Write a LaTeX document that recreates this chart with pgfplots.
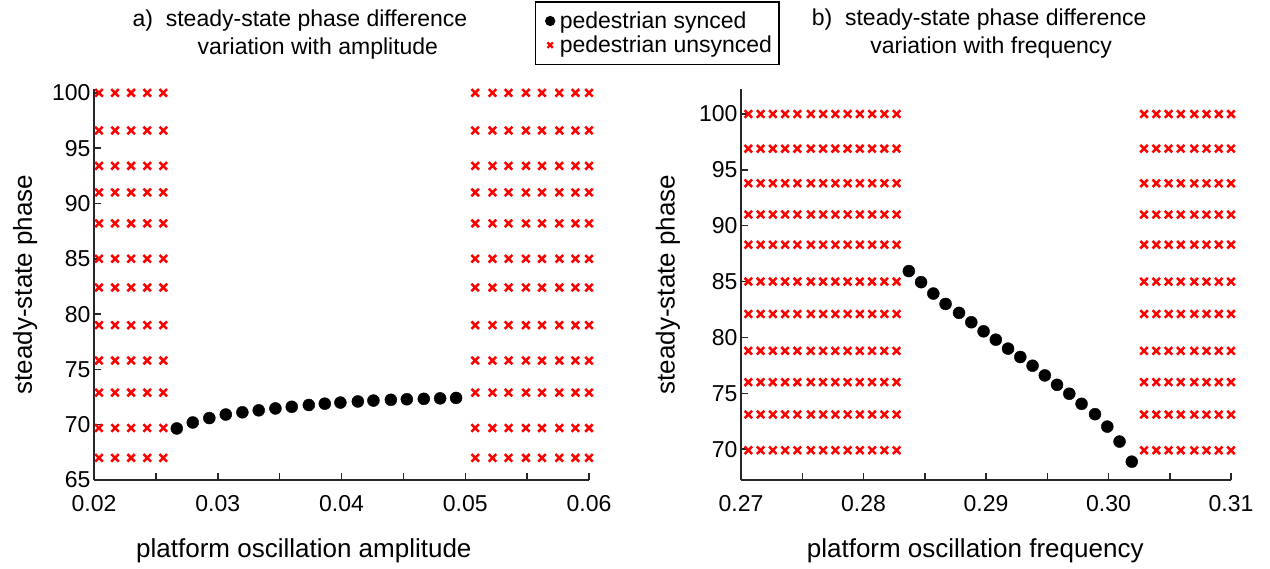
\documentclass[border=0pt]{standalone}
\usepackage{fontspec}
\setmainfont{Liberation Sans}
\usepackage{pgfplots}
\pgfplotsset{compat=1.18}

\definecolor{axgray}{gray}{0.15}

\pgfplotsset{
  panel/.style={
    scale only axis,
    axis x line*=bottom, axis y line*=left,
    tick align=inside,
    major tick length=7bp,
    axis line style={axgray, line width=1.5bp},
    every tick/.style={axgray, line width=1.5bp},
    tick label style={font=\fontsize{23bp}{23bp}\selectfont, black},
    xticklabel style={yshift=-12bp},
    label style={font=\fontsize{26bp}{26bp}\selectfont},
    title style={font=\fontsize{23bp}{28bp}\selectfont, align=center, anchor=center},
    /pgf/number format/assume math mode=true,
    scaled x ticks=false,
    clip=false,
  },
  sync/.style={only marks, mark=*, mark size=6bp, black, mark options={fill=black}},
  unsync/.style={only marks, mark=x, mark size=5.3bp, red, mark options={line width=2.5bp}},
}

\begin{document}
\begin{tikzpicture}
\path[use as bounding box] (0,0) rectangle (1270bp,569bp);

% a) amplitude
\begin{axis}[panel,
  at={(94bp,89bp)}, anchor=south west,
  width=495bp, height=391bp,
  xmin=0.02, xmax=0.06, ymin=65, ymax=100.35,
  xtick={0.02,0.025,0.03,0.035,0.04,0.045,0.05,0.055,0.06},
  xticklabels={0.02,,0.03,,0.04,,0.05,,0.06},
  ytick={65,70,75,80,85,90,95,100},
  title={a)\ \ steady-state phase difference\\\hspace*{36bp}variation with amplitude},
  title style={at={(axis description cs:0.416,1.123)}},
  xlabel={platform oscillation amplitude},
  xlabel style={at={(axis description cs:0.424,-0.182)}, anchor=center},
  ylabel={steady-state phase},
  ylabel style={at={(axis description cs:-0.139,0.5)}, anchor=center},
  legend style={at={(axis description cs:1.138,1.143)}, anchor=center,
    draw=black, line width=1.2bp, font=\fontsize{23bp}{25bp}\selectfont,
    inner xsep=5bp, inner ysep=8bp, row sep=2bp},
  legend cell align=left,
  legend image code/.code={\path (0bp,0bp) (16bp,0bp); \draw[#1] plot coordinates {(9bp,0bp)};},
]
\addlegendimage{only marks, mark=*, mark size=4.5bp, black, mark options={fill=black}}
\addlegendentry{pedestrian synced}
\addlegendimage{only marks, mark=x, mark size=3.8bp, red, mark options={line width=2.2bp}}
\addlegendentry{pedestrian unsynced}
\addplot[sync, forget plot] coordinates {
 (0.02669,69.66) (0.02798,70.20) (0.02932,70.60) (0.03065,70.92) (0.03199,71.12)
 (0.03331,71.30) (0.03466,71.47) (0.03598,71.62) (0.03736,71.78) (0.03865,71.90)
 (0.03991,72.00) (0.04132,72.10) (0.04258,72.18) (0.04399,72.25) (0.04528,72.30)
 (0.04665,72.34) (0.04797,72.38) (0.04926,72.42)
};
\addplot[unsync, forget plot] coordinates {
 (0.0204,100) (0.0217,100) (0.0230,100) (0.0243,100) (0.0256,100) (0.0508,100) (0.0522,100) (0.0535,100) (0.0549,100) (0.0562,100) (0.0576,100) (0.0589,100) (0.0600,100)
 (0.0204,96.6) (0.0217,96.6) (0.0230,96.6) (0.0243,96.6) (0.0256,96.6) (0.0508,96.6) (0.0522,96.6) (0.0535,96.6) (0.0549,96.6) (0.0562,96.6) (0.0576,96.6) (0.0589,96.6) (0.0600,96.6)
 (0.0204,93.4) (0.0217,93.4) (0.0230,93.4) (0.0243,93.4) (0.0256,93.4) (0.0508,93.4) (0.0522,93.4) (0.0535,93.4) (0.0549,93.4) (0.0562,93.4) (0.0576,93.4) (0.0589,93.4) (0.0600,93.4)
 (0.0204,91.0) (0.0217,91.0) (0.0230,91.0) (0.0243,91.0) (0.0256,91.0) (0.0508,91.0) (0.0522,91.0) (0.0535,91.0) (0.0549,91.0) (0.0562,91.0) (0.0576,91.0) (0.0589,91.0) (0.0600,91.0)
 (0.0204,88.2) (0.0217,88.2) (0.0230,88.2) (0.0243,88.2) (0.0256,88.2) (0.0508,88.2) (0.0522,88.2) (0.0535,88.2) (0.0549,88.2) (0.0562,88.2) (0.0576,88.2) (0.0589,88.2) (0.0600,88.2)
 (0.0204,85.0) (0.0217,85.0) (0.0230,85.0) (0.0243,85.0) (0.0256,85.0) (0.0508,85.0) (0.0522,85.0) (0.0535,85.0) (0.0549,85.0) (0.0562,85.0) (0.0576,85.0) (0.0589,85.0) (0.0600,85.0)
 (0.0204,82.4) (0.0217,82.4) (0.0230,82.4) (0.0243,82.4) (0.0256,82.4) (0.0508,82.4) (0.0522,82.4) (0.0535,82.4) (0.0549,82.4) (0.0562,82.4) (0.0576,82.4) (0.0589,82.4) (0.0600,82.4)
 (0.0204,79.0) (0.0217,79.0) (0.0230,79.0) (0.0243,79.0) (0.0256,79.0) (0.0508,79.0) (0.0522,79.0) (0.0535,79.0) (0.0549,79.0) (0.0562,79.0) (0.0576,79.0) (0.0589,79.0) (0.0600,79.0)
 (0.0204,75.8) (0.0217,75.8) (0.0230,75.8) (0.0243,75.8) (0.0256,75.8) (0.0508,75.8) (0.0522,75.8) (0.0535,75.8) (0.0549,75.8) (0.0562,75.8) (0.0576,75.8) (0.0589,75.8) (0.0600,75.8)
 (0.0204,72.9) (0.0217,72.9) (0.0230,72.9) (0.0243,72.9) (0.0256,72.9) (0.0508,72.9) (0.0522,72.9) (0.0535,72.9) (0.0549,72.9) (0.0562,72.9) (0.0576,72.9) (0.0589,72.9) (0.0600,72.9)
 (0.0204,69.7) (0.0217,69.7) (0.0230,69.7) (0.0243,69.7) (0.0256,69.7) (0.0508,69.7) (0.0522,69.7) (0.0535,69.7) (0.0549,69.7) (0.0562,69.7) (0.0576,69.7) (0.0589,69.7) (0.0600,69.7)
 (0.0204,67.0) (0.0217,67.0) (0.0230,67.0) (0.0243,67.0) (0.0256,67.0) (0.0508,67.0) (0.0522,67.0) (0.0535,67.0) (0.0549,67.0) (0.0562,67.0) (0.0576,67.0) (0.0589,67.0) (0.0600,67.0)
};
\end{axis}

% b) frequency
\begin{axis}[panel,
  at={(741bp,89bp)}, anchor=south west,
  width=490bp, height=391bp,
  xmin=0.27, xmax=0.31, ymin=67.24, ymax=102.24,
  xtick={0.27,0.275,0.28,0.285,0.29,0.295,0.30,0.305,0.31},
  xticklabels={0.27,,0.28,,0.29,,0.30,,0.31},
  ytick={70,75,80,85,90,95,100},
  title={b)\ \ steady-state phase difference\\\hspace*{24bp}variation with frequency},
  title style={at={(axis description cs:0.486,1.126)}},
  xlabel={platform oscillation frequency},
  xlabel style={at={(axis description cs:0.478,-0.182)}, anchor=center},
  ylabel={steady-state phase},
  ylabel style={at={(axis description cs:-0.149,0.5)}, anchor=center},
]
\addplot[sync] coordinates {
 (0.2837,85.94) (0.2847,84.95) (0.2857,83.93) (0.2867,83.00) (0.2878,82.20)
 (0.2888,81.36) (0.2898,80.55) (0.2908,79.80) (0.2918,79.00) (0.2928,78.25)
 (0.2938,77.47) (0.2948,76.60) (0.2958,75.76) (0.2968,74.96) (0.2978,74.06)
 (0.2989,73.13) (0.2999,72.02) (0.3009,70.68) (0.3019,68.88)
};
\addplot[unsync] coordinates {
 (0.2706,100) (0.2716,100) (0.2726,100) (0.2736,100) (0.2746,100) (0.2757,100) (0.2767,100) (0.2777,100) (0.2787,100) (0.2797,100) (0.2807,100) (0.2817,100) (0.2827,100) (0.3029,100) (0.3039,100) (0.3049,100) (0.3059,100) (0.3070,100) (0.3080,100) (0.3090,100) (0.3100,100)
 (0.2706,96.9) (0.2716,96.9) (0.2726,96.9) (0.2736,96.9) (0.2746,96.9) (0.2757,96.9) (0.2767,96.9) (0.2777,96.9) (0.2787,96.9) (0.2797,96.9) (0.2807,96.9) (0.2817,96.9) (0.2827,96.9) (0.3029,96.9) (0.3039,96.9) (0.3049,96.9) (0.3059,96.9) (0.3070,96.9) (0.3080,96.9) (0.3090,96.9) (0.3100,96.9)
 (0.2706,93.8) (0.2716,93.8) (0.2726,93.8) (0.2736,93.8) (0.2746,93.8) (0.2757,93.8) (0.2767,93.8) (0.2777,93.8) (0.2787,93.8) (0.2797,93.8) (0.2807,93.8) (0.2817,93.8) (0.2827,93.8) (0.3029,93.8) (0.3039,93.8) (0.3049,93.8) (0.3059,93.8) (0.3070,93.8) (0.3080,93.8) (0.3090,93.8) (0.3100,93.8)
 (0.2706,91.0) (0.2716,91.0) (0.2726,91.0) (0.2736,91.0) (0.2746,91.0) (0.2757,91.0) (0.2767,91.0) (0.2777,91.0) (0.2787,91.0) (0.2797,91.0) (0.2807,91.0) (0.2817,91.0) (0.2827,91.0) (0.3029,91.0) (0.3039,91.0) (0.3049,91.0) (0.3059,91.0) (0.3070,91.0) (0.3080,91.0) (0.3090,91.0) (0.3100,91.0)
 (0.2706,88.3) (0.2716,88.3) (0.2726,88.3) (0.2736,88.3) (0.2746,88.3) (0.2757,88.3) (0.2767,88.3) (0.2777,88.3) (0.2787,88.3) (0.2797,88.3) (0.2807,88.3) (0.2817,88.3) (0.2827,88.3) (0.3029,88.3) (0.3039,88.3) (0.3049,88.3) (0.3059,88.3) (0.3070,88.3) (0.3080,88.3) (0.3090,88.3) (0.3100,88.3)
 (0.2706,85.0) (0.2716,85.0) (0.2726,85.0) (0.2736,85.0) (0.2746,85.0) (0.2757,85.0) (0.2767,85.0) (0.2777,85.0) (0.2787,85.0) (0.2797,85.0) (0.2807,85.0) (0.2817,85.0) (0.2827,85.0) (0.3029,85.0) (0.3039,85.0) (0.3049,85.0) (0.3059,85.0) (0.3070,85.0) (0.3080,85.0) (0.3090,85.0) (0.3100,85.0)
 (0.2706,82.1) (0.2716,82.1) (0.2726,82.1) (0.2736,82.1) (0.2746,82.1) (0.2757,82.1) (0.2767,82.1) (0.2777,82.1) (0.2787,82.1) (0.2797,82.1) (0.2807,82.1) (0.2817,82.1) (0.2827,82.1) (0.3029,82.1) (0.3039,82.1) (0.3049,82.1) (0.3059,82.1) (0.3070,82.1) (0.3080,82.1) (0.3090,82.1) (0.3100,82.1)
 (0.2706,78.8) (0.2716,78.8) (0.2726,78.8) (0.2736,78.8) (0.2746,78.8) (0.2757,78.8) (0.2767,78.8) (0.2777,78.8) (0.2787,78.8) (0.2797,78.8) (0.2807,78.8) (0.2817,78.8) (0.2827,78.8) (0.3029,78.8) (0.3039,78.8) (0.3049,78.8) (0.3059,78.8) (0.3070,78.8) (0.3080,78.8) (0.3090,78.8) (0.3100,78.8)
 (0.2706,76.0) (0.2716,76.0) (0.2726,76.0) (0.2736,76.0) (0.2746,76.0) (0.2757,76.0) (0.2767,76.0) (0.2777,76.0) (0.2787,76.0) (0.2797,76.0) (0.2807,76.0) (0.2817,76.0) (0.2827,76.0) (0.3029,76.0) (0.3039,76.0) (0.3049,76.0) (0.3059,76.0) (0.3070,76.0) (0.3080,76.0) (0.3090,76.0) (0.3100,76.0)
 (0.2706,73.1) (0.2716,73.1) (0.2726,73.1) (0.2736,73.1) (0.2746,73.1) (0.2757,73.1) (0.2767,73.1) (0.2777,73.1) (0.2787,73.1) (0.2797,73.1) (0.2807,73.1) (0.2817,73.1) (0.2827,73.1) (0.3029,73.1) (0.3039,73.1) (0.3049,73.1) (0.3059,73.1) (0.3070,73.1) (0.3080,73.1) (0.3090,73.1) (0.3100,73.1)
 (0.2706,69.9) (0.2716,69.9) (0.2726,69.9) (0.2736,69.9) (0.2746,69.9) (0.2757,69.9) (0.2767,69.9) (0.2777,69.9) (0.2787,69.9) (0.2797,69.9) (0.2807,69.9) (0.2817,69.9) (0.2827,69.9) (0.3029,69.9) (0.3039,69.9) (0.3049,69.9) (0.3059,69.9) (0.3070,69.9) (0.3080,69.9) (0.3090,69.9) (0.3100,69.9)
};
\end{axis}
\end{tikzpicture}
\end{document}
